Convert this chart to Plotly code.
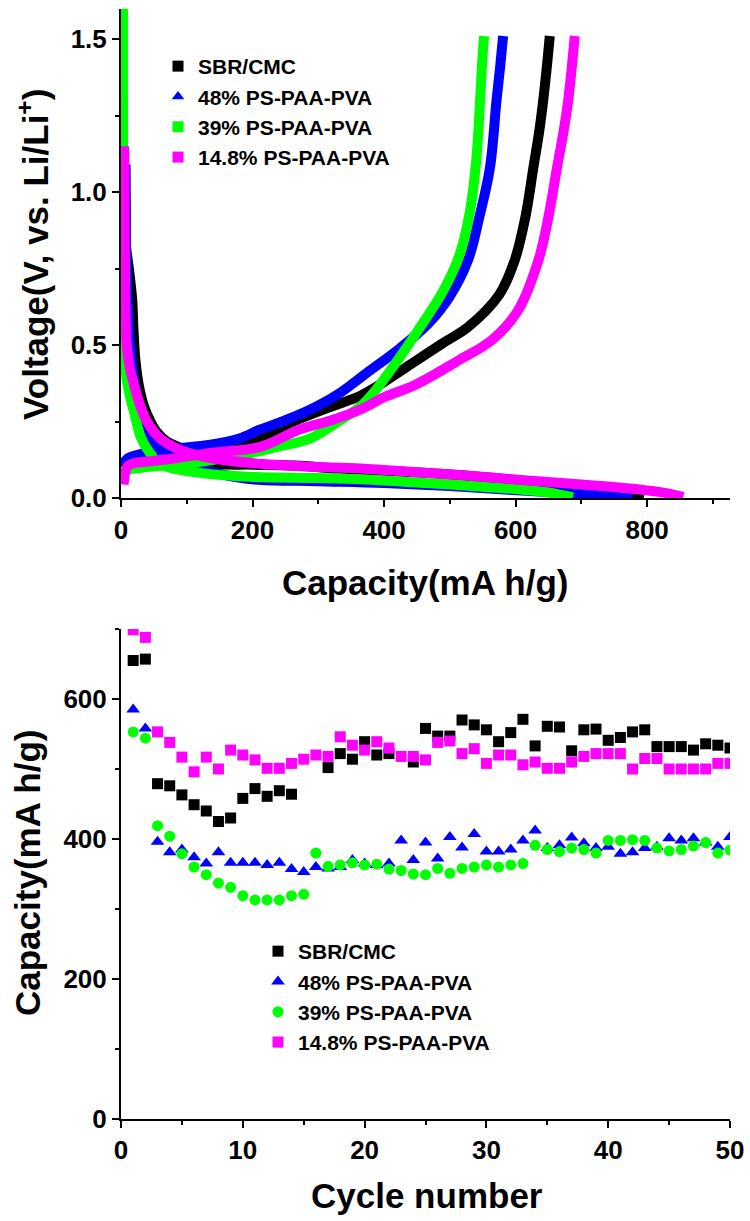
import plotly.graph_objects as go

# ---------------- data ----------------
names = ["SBR/CMC", "48% PS-PAA-PVA", "39% PS-PAA-PVA", "14.8% PS-PAA-PVA"]
colors = ["#000000", "#0000FF", "#00FF00", "#FF00FF"]

# Top panel: voltage profiles (discharge + charge), capacity in mA h/g, voltage in V
blk_dis_cap = [4, 6, 12, 17, 19, 22, 27, 35, 45, 55, 70, 90, 120, 141, 200, 265, 330, 400, 500, 600, 700, 760, 795]
blk_dis_v = [0.97, 0.85, 0.75, 0.65, 0.55, 0.45, 0.37, 0.30, 0.25, 0.215, 0.185, 0.165, 0.135, 0.114, 0.110, 0.107, 0.097, 0.090, 0.078, 0.060, 0.037, 0.018, 0.003]
blk_chg_cap = [3, 10, 50, 100, 150, 200, 272, 320, 364, 400, 442, 488, 528, 575, 599, 615, 627, 636, 642, 648, 652]
blk_chg_v = [0.10, 0.12, 0.14, 0.155, 0.165, 0.19, 0.26, 0.30, 0.335, 0.38, 0.44, 0.505, 0.56, 0.665, 0.78, 0.92, 1.08, 1.20, 1.30, 1.42, 1.51]

blu_dis_cap = [7, 7.5, 8, 10, 14, 20, 30, 45, 65, 100, 150, 200, 300, 400, 500, 590, 668, 740, 778]
blu_dis_v = [1.09, 0.94, 0.78, 0.65, 0.50, 0.38, 0.28, 0.20, 0.15, 0.11, 0.08, 0.062, 0.056, 0.050, 0.040, 0.028, 0.018, 0.010, 0.003]
blu_chg_cap = [3, 10, 40, 80, 136, 180, 212, 250, 288, 330, 374, 424, 467, 500, 528, 545, 561, 571, 577, 581]
blu_chg_v = [0.11, 0.13, 0.15, 0.162, 0.175, 0.195, 0.225, 0.255, 0.29, 0.34, 0.41, 0.49, 0.57, 0.66, 0.78, 0.92, 1.08, 1.30, 1.42, 1.51]

grn_dis_cap = [3, 3, 3.5, 4, 5, 8, 14, 20, 30, 40, 55, 70, 120, 196, 300, 364, 460, 516, 600, 647, 687]
grn_dis_v = [1.60, 1.30, 1.00, 0.70, 0.50, 0.40, 0.33, 0.28, 0.20, 0.16, 0.12, 0.103, 0.083, 0.070, 0.066, 0.062, 0.050, 0.043, 0.030, 0.020, 0.003]
grn_chg_cap = [3, 8, 30, 100, 180, 237, 288, 330, 364, 386, 417, 452, 488, 514, 530, 540, 546, 549, 552]
grn_chg_v = [0.07, 0.09, 0.10, 0.113, 0.14, 0.168, 0.196, 0.25, 0.30, 0.35, 0.44, 0.55, 0.67, 0.79, 0.93, 1.10, 1.30, 1.42, 1.51]

pnk_dis_cap = [5, 5.5, 6, 7, 9, 14, 20, 25, 35, 45, 60, 80, 100, 140, 200, 280, 364, 450, 520, 607, 700, 769, 820, 855]
pnk_dis_v = [1.15, 0.95, 0.78, 0.60, 0.50, 0.42, 0.37, 0.33, 0.27, 0.232, 0.195, 0.168, 0.150, 0.130, 0.115, 0.104, 0.097, 0.085, 0.075, 0.060, 0.045, 0.033, 0.020, 0.005]
pnk_chg_cap = [4, 6, 10, 20, 40, 80, 136, 212, 272, 320, 364, 400, 447, 513, 564, 604, 635, 650, 663, 673, 680, 686, 690]
pnk_chg_v = [0.045, 0.08, 0.105, 0.115, 0.12, 0.13, 0.148, 0.168, 0.225, 0.255, 0.29, 0.33, 0.37, 0.45, 0.517, 0.615, 0.78, 0.92, 1.08, 1.20, 1.30, 1.42, 1.51]

# Bottom panel: capacity vs cycle number
cycles = list(range(1, 51))
cap_sbr = [655, 657, 479, 476, 463, 449, 440, 425, 430, 458, 472, 461, 469, 464, None, None, 502, 522, 514, 539,
           520, 522, None, 510, 558, 547, 547, 570, 563, 556, 539, 552, 571, 533, 561, 560, 526, 556, 557, 541,
           545, 553, 556, 532, 532, 532, 527, 536, 534, 530]
cap_48 = [585, 558, 396, 381, 385, 374, 365, 381, 366, 366, 366, 363, 366, 357, 353, 360, 358, 360, 370, 365,
          363, 365, 398, 370, 395, 372, 403, 388, 407, 382, 382, 385, 398, 412, 387, 391, 402, 394, 387, 389,
          379, 381, 387, 389, 401, 398, 401, 395, 389, 403]
cap_39 = [553, 544, 419, 404, 379, 360, 349, 337, 331, 319, 313, 313, 313, 319, 321, 380, 361, 363, 366, 363,
          364, 357, 355, 350, 349, 358, 351, 358, 360, 363, 360, 363, 365, 391, 385, 382, 387, 385, 380, 398,
          398, 399, 398, 387, 383, 385, 390, 395, 380, 384]
cap_148 = [699, 688, 553, 538, 517, 496, 517, 500, 527, 520, 513, 501, 501, 508, 514, 520, 518, 546, 534, 527,
           539, 530, 518, 518, 513, 538, 540, 522, 529, 508, 520, 520, 506, 510, 501, 501, 510, 518, 522, 522,
           522, 500, 515, 515, 500, 500, 500, 500, 508, 508]

top_curves = [
    (blk_dis_cap, blk_dis_v, blk_chg_cap, blk_chg_v),
    (blu_dis_cap, blu_dis_v, blu_chg_cap, blu_chg_v),
    (grn_dis_cap, grn_dis_v, grn_chg_cap, grn_chg_v),
    (pnk_dis_cap, pnk_dis_v, pnk_chg_cap, pnk_chg_v),
]
bottom_series = [cap_sbr, cap_48, cap_39, cap_148]

top_symbols = ["square", "triangle-up", "square", "square"]
bot_symbols = ["square", "triangle-up", "circle", "square"]
bot_sizes = [11, 12, 11, 11]

FONT = "Arial, Liberation Sans, sans-serif"

fig = go.Figure()

# ---------------- top panel ----------------
for i, (dc, dv, cc, cv) in enumerate(top_curves):
    for xs, ys in ((dc, dv), (cc, cv)):
        fig.add_trace(go.Scatter(x=xs, y=ys, mode="lines",
                                 line=dict(color=colors[i], width=10, shape="spline", smoothing=1.0),
                                 showlegend=False, hoverinfo="skip", xaxis="x", yaxis="y"))
for i in range(4):
    fig.add_trace(go.Scatter(x=[None], y=[None], mode="markers", name=names[i],
                             marker=dict(symbol=top_symbols[i], color=colors[i], size=11),
                             legend="legend", xaxis="x", yaxis="y"))

# ---------------- bottom panel ----------------
for i, ys in enumerate(bottom_series):
    fig.add_trace(go.Scatter(x=cycles, y=ys, mode="markers", name=names[i],
                             marker=dict(symbol=bot_symbols[i], color=colors[i], size=bot_sizes[i]),
                             legend="legend2", xaxis="x2", yaxis="y2"))

axis_common = dict(showline=True, linewidth=2, linecolor="black", ticks="outside", ticklen=7, tickwidth=2,
                   tickcolor="black", showgrid=False, zeroline=False, automargin=False,
                   tickfont=dict(family=FONT, size=26, color="black", weight="bold"))

xdom = [121 / 750, 730 / 750]
fig.update_layout(
    width=750, height=1221,
    margin=dict(l=0, r=0, t=0, b=0),
    paper_bgcolor="white", plot_bgcolor="white",
    xaxis=dict(domain=xdom, range=[0, 926], anchor="y", tick0=0, dtick=200,
               minor=dict(ticks="outside", ticklen=4, tickwidth=2, dtick=100, tickcolor="black"), **axis_common),
    yaxis=dict(domain=[1 - 498.3 / 1221, 1 - 8.5 / 1221], range=[0, 1.6], anchor="x", tick0=0, dtick=0.5,
               tickformat=".1f",
               minor=dict(ticks="outside", ticklen=4, tickwidth=2, dtick=0.25, tickcolor="black"), **axis_common),
    xaxis2=dict(domain=xdom, range=[0, 50], anchor="y2", tick0=0, dtick=10,
                minor=dict(ticks="outside", ticklen=4, tickwidth=2, dtick=5, tickcolor="black"), **axis_common),
    yaxis2=dict(domain=[1 - 1119 / 1221, 1 - 629 / 1221], range=[0, 700], anchor="x2", tick0=0, dtick=200,
                minor=dict(ticks="outside", ticklen=4, tickwidth=2, dtick=100, tickcolor="black"), **axis_common),
    legend=dict(x=158 / 750, y=1 - 46 / 1221, xanchor="left", yanchor="top", bgcolor="rgba(0,0,0,0)",
                font=dict(family=FONT, size=21, color="black", weight="bold"), itemwidth=30, tracegroupgap=0),
    legend2=dict(x=258 / 750, y=1 - 931 / 1221, xanchor="left", yanchor="top", bgcolor="rgba(0,0,0,0)",
                 font=dict(family=FONT, size=21, color="black", weight="bold"), itemwidth=30, tracegroupgap=0),
)

title_font = dict(family=FONT, size=35, color="black", weight="bold")
annotations = [
    dict(text="Capacity(mA h/g)", x=425 / 750, y=1 - 582 / 1221, textangle=0),
    dict(text="Voltage(V, vs. Li/Li<sup>+</sup>)", x=33 / 750, y=1 - 255 / 1221, textangle=-90),
    dict(text="Capacity(mA h/g)", x=27 / 750, y=1 - 873 / 1221, textangle=-90),
    dict(text="Cycle number", x=427 / 750, y=1 - 1195 / 1221, textangle=0),
]
for a in annotations:
    fig.add_annotation(xref="paper", yref="paper", showarrow=False, xanchor="center", yanchor="middle",
                       font=title_font, **a)

fig.write_html("out.html", config={"displayModeBar": False},
               post_script="document.body.style.margin='0';")
